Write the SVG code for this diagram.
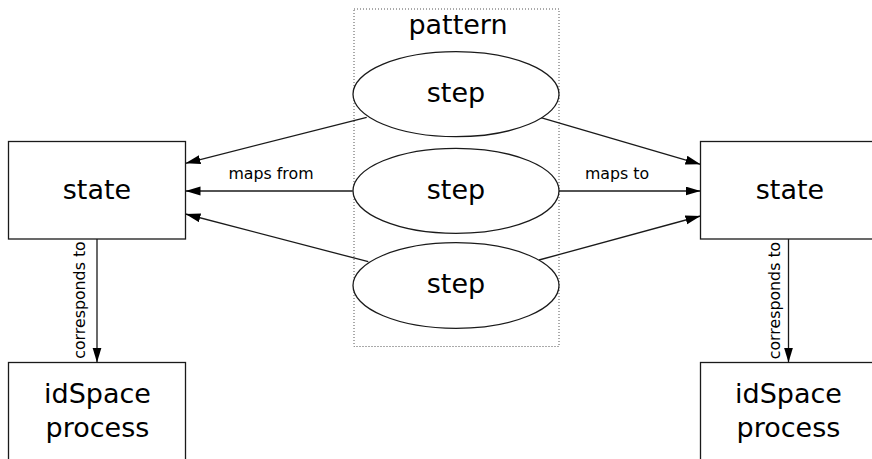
<svg xmlns="http://www.w3.org/2000/svg" width="872" height="459" viewBox="0 0 872 459">
<style>
.box{fill:#fff;stroke:#1a1a1a;stroke-width:1.3}
.ell{fill:#fff;stroke:#1a1a1a;stroke-width:1.3}
.edge{fill:none;stroke:#1a1a1a;stroke-width:1.3}
.big{font-family:"DejaVu Sans",sans-serif;font-size:27px;fill:#000;text-anchor:middle}
.lbl{font-family:"DejaVu Sans",sans-serif;font-size:15.8px;fill:#000;text-anchor:middle}
.cluster{fill:none;stroke:#555;stroke-width:1;stroke-dasharray:1,2}
</style>
<defs>
<marker id="ah" markerUnits="userSpaceOnUse" markerWidth="16" markerHeight="10" refX="15" refY="4.5" orient="auto">
<path d="M0,0 L15,4.5 L0,9 z" fill="#000"/>
</marker>
</defs>
<rect width="872" height="459" fill="#fff"/>
<g id="cluster_pattern">
<rect class="cluster" x="354" y="9" width="205" height="337.5"/>
<text class="big" x="458" y="34">pattern</text>
</g>
<g id="connectors">
<line class="edge" x1="366.7" y1="117.3" x2="185.5" y2="163.3" marker-end="url(#ah)"/>
<line class="edge" x1="352.7" y1="191" x2="185.5" y2="191" marker-end="url(#ah)"/>
<line class="edge" x1="368.3" y1="261.7" x2="185.5" y2="214" marker-end="url(#ah)"/>
<line class="edge" x1="540" y1="117.3" x2="700.5" y2="164.3" marker-end="url(#ah)"/>
<line class="edge" x1="559" y1="191" x2="700.5" y2="191" marker-end="url(#ah)"/>
<line class="edge" x1="539" y1="260" x2="700.5" y2="216" marker-end="url(#ah)"/>
<line class="edge" x1="97" y1="239" x2="97" y2="362.5" marker-end="url(#ah)"/>
<line class="edge" x1="788.5" y1="239" x2="788.5" y2="362.5" marker-end="url(#ah)"/>
<text class="lbl" x="271" y="179">maps from</text>
<text class="lbl" x="617" y="179">maps to</text>
<text class="lbl" transform="translate(85,300) rotate(-90)">corresponds to</text>
<text class="lbl" transform="translate(780,300.5) rotate(-90)">corresponds to</text>
</g>
<g id="state_left">
<rect class="box" x="8.5" y="141.5" width="177" height="97.5"/>
<text class="big" x="97" y="199">state</text>
</g>
<g id="state_right">
<rect class="box" x="700.5" y="141.5" width="177" height="97.5"/>
<text class="big" x="790" y="199">state</text>
</g>
<g id="step_top">
<ellipse class="ell" cx="456" cy="94.2" rx="103" ry="42.5"/>
<text class="big" x="456" y="102">step</text>
</g>
<g id="step_mid">
<ellipse class="ell" cx="456" cy="190.8" rx="103" ry="42.5"/>
<text class="big" x="456" y="198.5">step</text>
</g>
<g id="step_bot">
<ellipse class="ell" cx="456" cy="285.5" rx="103" ry="42.8"/>
<text class="big" x="456" y="293">step</text>
</g>
<g id="process_left">
<rect class="box" x="8.5" y="362.5" width="177" height="110"/>
<text class="big" x="97.5" y="403">idSpace</text>
<text class="big" x="97.5" y="436.5">process</text>
</g>
<g id="process_right">
<rect class="box" x="700.5" y="362.5" width="177" height="110"/>
<text class="big" x="788.5" y="403">idSpace</text>
<text class="big" x="788.5" y="436.5">process</text>
</g>
</svg>
